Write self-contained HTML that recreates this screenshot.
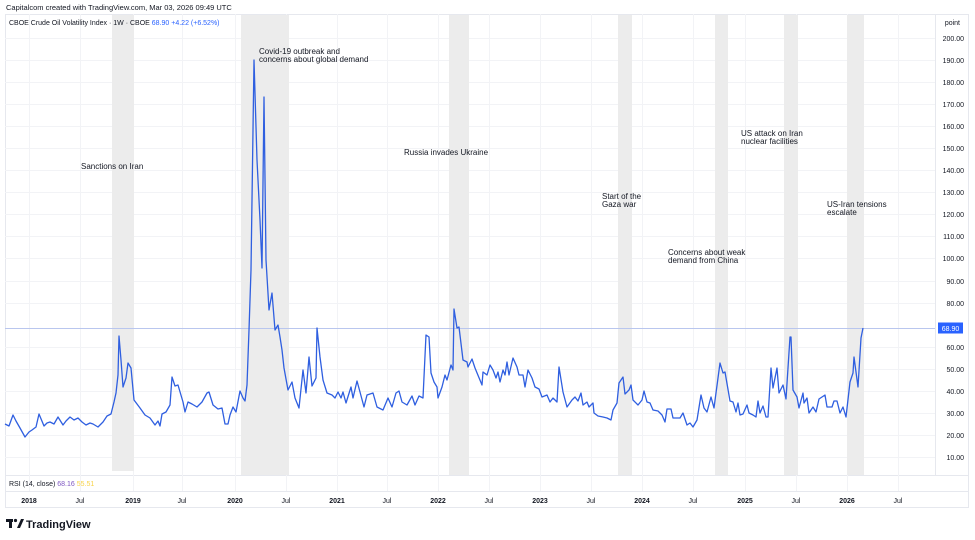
<!DOCTYPE html>
<html><head><meta charset="utf-8"><style>
html,body{margin:0;padding:0;background:#fff;}
svg{display:block;font-family:"Liberation Sans",sans-serif;}
</style></head><body>
<svg width="975" height="540" viewBox="0 0 975 540" xmlns="http://www.w3.org/2000/svg">
<rect width="975" height="540" fill="#fff"/>
<text x="6" y="10" font-size="7.5" fill="#131722">Capitalcom created with TradingView.com, Mar 03, 2026 09:49 UTC</text>
<!-- frame -->
<rect x="5.5" y="14.5" width="963" height="493" fill="none" stroke="#e6e8ee"/>
<line x1="935.5" y1="14" x2="935.5" y2="475" stroke="#e6e8ee"/>
<line x1="5" y1="475.5" x2="968" y2="475.5" stroke="#e6e8ee"/>
<line x1="5" y1="491.5" x2="968" y2="491.5" stroke="#e6e8ee"/>
<!-- grid -->
<g stroke="#f2f3f6" stroke-width="1">
<line x1="5" y1="38.5" x2="935" y2="38.5"/><line x1="5" y1="60.5" x2="935" y2="60.5"/><line x1="5" y1="82.5" x2="935" y2="82.5"/><line x1="5" y1="104.5" x2="935" y2="104.5"/><line x1="5" y1="126.5" x2="935" y2="126.5"/><line x1="5" y1="148.5" x2="935" y2="148.5"/><line x1="5" y1="170.5" x2="935" y2="170.5"/><line x1="5" y1="192.5" x2="935" y2="192.5"/><line x1="5" y1="214.5" x2="935" y2="214.5"/><line x1="5" y1="236.5" x2="935" y2="236.5"/><line x1="5" y1="258.5" x2="935" y2="258.5"/><line x1="5" y1="281.5" x2="935" y2="281.5"/><line x1="5" y1="303.5" x2="935" y2="303.5"/><line x1="5" y1="347.5" x2="935" y2="347.5"/><line x1="5" y1="369.5" x2="935" y2="369.5"/><line x1="5" y1="391.5" x2="935" y2="391.5"/><line x1="5" y1="413.5" x2="935" y2="413.5"/><line x1="5" y1="435.5" x2="935" y2="435.5"/><line x1="5" y1="457.5" x2="935" y2="457.5"/>
<line x1="29.5" y1="14" x2="29.5" y2="491"/><line x1="80.5" y1="14" x2="80.5" y2="491"/><line x1="133.5" y1="14" x2="133.5" y2="491"/><line x1="182.5" y1="14" x2="182.5" y2="491"/><line x1="235.5" y1="14" x2="235.5" y2="491"/><line x1="286.5" y1="14" x2="286.5" y2="491"/><line x1="337.5" y1="14" x2="337.5" y2="491"/><line x1="387.5" y1="14" x2="387.5" y2="491"/><line x1="438.5" y1="14" x2="438.5" y2="491"/><line x1="489.5" y1="14" x2="489.5" y2="491"/><line x1="540.5" y1="14" x2="540.5" y2="491"/><line x1="591.5" y1="14" x2="591.5" y2="491"/><line x1="642.5" y1="14" x2="642.5" y2="491"/><line x1="693.5" y1="14" x2="693.5" y2="491"/><line x1="745.5" y1="14" x2="745.5" y2="491"/><line x1="796.5" y1="14" x2="796.5" y2="491"/><line x1="847.5" y1="14" x2="847.5" y2="491"/><line x1="898.5" y1="14" x2="898.5" y2="491"/>
</g>
<!-- bands -->
<g fill="#ececec">
<rect x="112" y="15" width="22" height="456"/>
<rect x="241" y="15" width="48" height="460"/>
<rect x="449" y="15" width="20" height="460"/>
<rect x="618" y="15" width="14" height="460"/>
<rect x="715" y="15" width="13" height="460"/>
<rect x="784" y="15" width="14" height="460"/>
<rect x="847" y="15" width="17" height="460"/>
</g>
<line x1="5" y1="328.5" x2="935" y2="328.5" stroke="#b9c6ee" stroke-width="1"/>
<text x="9" y="25" font-size="7" fill="#131722">CBOE Crude Oil Volatility Index · 1W · CBOE <tspan fill="#2962ff">68.90</tspan> <tspan fill="#2962ff">+4.22 (+6.52%)</tspan></text>
<!-- series -->
<polyline fill="none" stroke="#2f5fe0" stroke-width="1.3" stroke-linejoin="round" points="5,424 9,426 13,415 16,421 20,428 25,437 29,432 32,430 36,427 39,414 44,426 47,423 50,422 54,424 58,417 63,425 66,421 70,417 74,420 78,418 82,422 86,425 90,423 93,424 98,427 103,422 107,416 111,414 114,402 116,393 118,375 119,336 121,360 123,387 126,378 128,363 131,368 134,400 137,404 140,408 145,415 150,418 155,425 158,421 160,426 162,414 166,412 170,405 172,377 175,386 178,385 183,402 185,412 188,402 192,404 197,407 202,402 207,393 209,392 213,405 218,409 222,408 225,424 228,424 230,415 233,407 236,412 240,391 243,398 245,401 247,385 249,330 251,270 254,60 257,160 260,220 262,268 264,97 266,260 269,310 272,293 275,330 278,325 280,337 282,350 284,368 288,390 292,382 295,398 299,408 303,370 306,393 309,357 312,386 316,378 317,328 320,357 323,380 327,393 332,395 335,398 338,392 341,398 343,392 346,403 351,387 353,398 357,381 360,392 364,407 367,395 373,393 377,407 383,410 388,398 392,407 396,393 399,391 402,402 407,405 412,396 415,405 419,396 423,398 426,335 429,337 431,373 434,382 437,387 438,398 442,387 445,375 447,380 451,365 453,370 454,309 457,328 459,327 463,360 467,362 468,367 472,359 475,368 482,385 483,372 487,375 490,365 493,370 496,378 498,372 500,382 503,370 505,375 507,362 509,375 513,358 517,367 519,375 523,375 525,387 528,370 532,378 535,387 539,389 542,397 547,395 550,402 553,398 557,402 559,367 563,392 567,407 572,400 575,397 578,401 581,393 583,405 587,402 589,407 593,403 594,413 598,416 603,417 607,418 611,420 613,410 617,403 619,383 623,377 625,394 629,390 631,385 633,400 638,405 642,400 644,391 647,402 650,403 653,410 658,411 662,415 665,422 667,409 671,409 673,418 680,418 683,413 687,425 690,423 693,427 697,420 701,395 704,408 707,412 711,397 714,408 720,363 723,373 725,372 730,401 733,402 736,412 738,403 740,415 743,414 747,405 749,413 753,415 756,417 758,401 760,413 763,406 766,417 768,417 771,368 773,388 777,368 779,393 783,385 786,399 790,337 791,337 793,390 797,397 799,408 803,393 804,403 807,398 809,413 813,407 816,412 819,399 825,395 827,407 832,407 834,401 837,401 840,413 843,407 846,417 850,382 853,373 854,357 858,387 861,338 863,328"/>
<!-- annotations -->
<g font-size="8" fill="#131722">
<text x="81" y="169">Sanctions on Iran</text>
<text x="259" y="54">Covid-19 outbreak and</text><text x="259" y="62">concerns about global demand</text>
<text x="404" y="155">Russia invades Ukraine</text>
<text x="602" y="199">Start of the</text><text x="602" y="207">Gaza war</text>
<text x="668" y="255">Concerns about weak</text><text x="668" y="263">demand from China</text>
<text x="741" y="136">US attack on Iran</text><text x="741" y="144">nuclear facilities</text>
<text x="827" y="207">US-Iran tensions</text><text x="827" y="215">escalate</text>
</g>
<!-- y axis -->
<g font-size="7" fill="#131722" text-anchor="end">
<text x="960" y="25">point</text>
<text x="964" y="41">200.00</text><text x="964" y="63">190.00</text><text x="964" y="85">180.00</text><text x="964" y="107">170.00</text><text x="964" y="129">160.00</text><text x="964" y="151">150.00</text><text x="964" y="173">140.00</text><text x="964" y="195">130.00</text><text x="964" y="217">120.00</text><text x="964" y="239">110.00</text><text x="964" y="261">100.00</text><text x="964" y="284">90.00</text><text x="964" y="306">80.00</text><text x="964" y="350">60.00</text><text x="964" y="372">50.00</text><text x="964" y="394">40.00</text><text x="964" y="416">30.00</text><text x="964" y="438">20.00</text><text x="964" y="460">10.00</text>
</g>
<rect x="938" y="322.5" width="25" height="11" fill="#2962ff"/>
<text x="950.5" y="331" font-size="7" fill="#fff" text-anchor="middle">68.90</text>
<!-- RSI -->
<text x="9" y="486" font-size="7" fill="#131722">RSI (14, close) <tspan fill="#7e57c2">68.16</tspan> <tspan fill="#f7d34a">55.51</tspan></text>
<!-- x axis -->
<g font-size="7" fill="#131722" text-anchor="middle">
<text x="29" y="503" font-weight="bold">2018</text><text x="80" y="503">Jul</text>
<text x="133" y="503" font-weight="bold">2019</text><text x="182" y="503">Jul</text>
<text x="235" y="503" font-weight="bold">2020</text><text x="286" y="503">Jul</text>
<text x="337" y="503" font-weight="bold">2021</text><text x="387" y="503">Jul</text>
<text x="438" y="503" font-weight="bold">2022</text><text x="489" y="503">Jul</text>
<text x="540" y="503" font-weight="bold">2023</text><text x="591" y="503">Jul</text>
<text x="642" y="503" font-weight="bold">2024</text><text x="693" y="503">Jul</text>
<text x="745" y="503" font-weight="bold">2025</text><text x="796" y="503">Jul</text>
<text x="847" y="503" font-weight="bold">2026</text><text x="898" y="503">Jul</text>
</g>
<!-- logo -->
<g fill="#131722">
<rect x="6" y="519" width="7" height="3"/><rect x="9" y="519" width="3" height="9"/>
<circle cx="15.5" cy="520.5" r="1.6"/>
<polygon points="17,528 21,519 24,519 20,528"/>
</g>
<text x="26" y="528" font-size="11" font-weight="bold" fill="#131722">TradingView</text>
</svg>
</body></html>
